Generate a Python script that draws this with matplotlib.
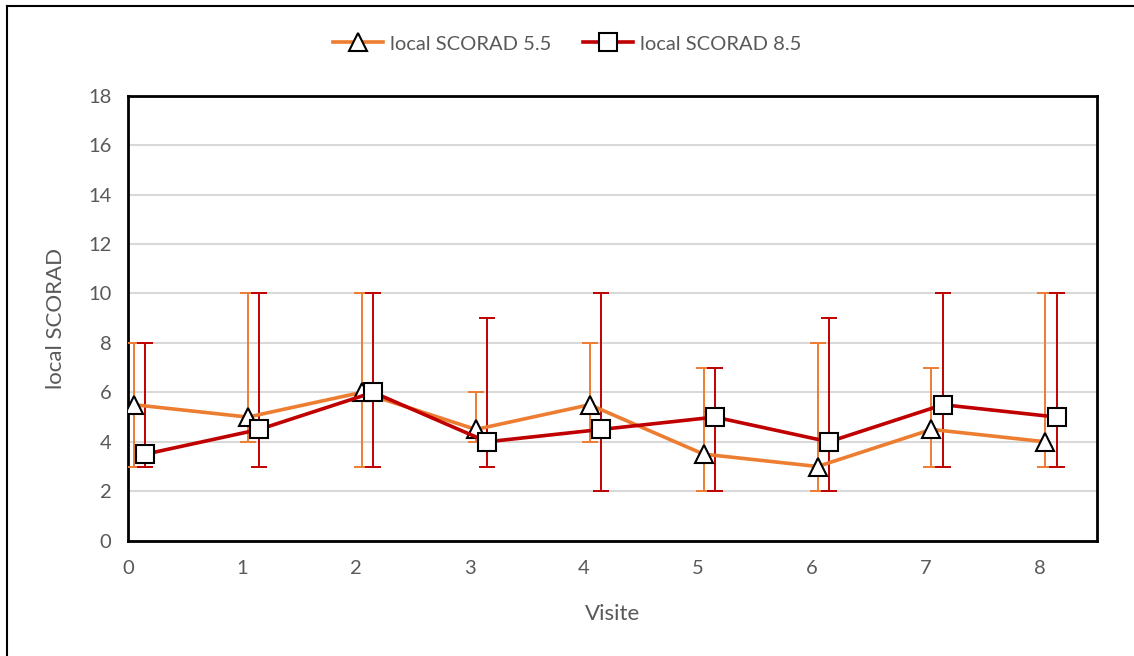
import numpy as np
import matplotlib.pyplot as plt
from matplotlib.lines import Line2D

visits = np.arange(9)
offset_a = 0.05
offset_b = 0.15

scorad_55 = [5.5, 5, 6, 4.5, 5.5, 3.5, 3, 4.5, 4]
scorad_55_low = [3, 4, 3, 4, 4, 2, 2, 3, 3]
scorad_55_high = [8, 10, 10, 6, 8, 7, 8, 7, 10]

scorad_85 = [3.5, 4.5, 6, 4, 4.5, 5, 4, 5.5, 5]
scorad_85_low = [3, 3, 3, 3, 2, 2, 2, 3, 3]
scorad_85_high = [8, 10, 10, 9, 10, 7, 9, 10, 10]

orange = '#ED7D31'
darkred = '#C00000'
gray_text = '#595959'

plt.rcParams['font.family'] = ['Lato', 'DejaVu Sans']

fig = plt.figure(figsize=(11.34, 6.56), dpi=100)
ax = fig.add_axes([0.1131, 0.1758, 0.9671 - 0.1131, 0.8541 - 0.1758])


def draw_series(x, vals, low, high, color, marker, label):
    vals = np.array(vals)
    yerr = [vals - np.array(low), np.array(high) - vals]
    ax.errorbar(x, vals, yerr=yerr, fmt='none', ecolor=color, elinewidth=1.4,
                capsize=6, capthick=1.4, zorder=3)
    ax.plot(x, vals, color=color, lw=2.6, marker=marker, markersize=13,
            markerfacecolor='white', markeredgecolor='black',
            markeredgewidth=1.5, label=label, zorder=4)


draw_series(visits + offset_a, scorad_55, scorad_55_low, scorad_55_high,
            orange, '^', 'local SCORAD 5.5')
draw_series(visits + offset_b, scorad_85, scorad_85_low, scorad_85_high,
            darkred, 's', 'local SCORAD 8.5')

ax.set_xlim(0, 8.5)
ax.set_ylim(0, 18)
ax.set_xticks(visits)
ax.set_yticks(np.arange(0, 19, 2))
ax.tick_params(length=0, labelsize=14.5, colors=gray_text)
ax.tick_params(axis='x', pad=14)
ax.tick_params(axis='y', pad=12)
ax.yaxis.grid(True, color='#D9D9D9', lw=1.5, zorder=0)
ax.set_axisbelow(True)
for s in ax.spines.values():
    s.set_color('black')
    s.set_linewidth(2)

ax.set_xlabel('Visite', fontsize=16, color=gray_text, labelpad=19)
ax.set_ylabel('local SCORAD', fontsize=16, color=gray_text, labelpad=16)

fig.legend(loc='center', bbox_to_anchor=(0.5, 1 - 44 / 656), ncol=2,
           frameon=False, fontsize=14.5, handlelength=2.5, columnspacing=1.6,
           labelcolor=gray_text, handletextpad=0.3)

# outer chart frame (only left and top edges visible)
fig.add_artist(Line2D([7 / 1134, 7 / 1134], [0, 1 - 6 / 656], color='black', lw=1.5))
fig.add_artist(Line2D([7 / 1134, 1], [1 - 6 / 656, 1 - 6 / 656], color='black', lw=1.5))

fig.savefig('out.png', dpi=100)
